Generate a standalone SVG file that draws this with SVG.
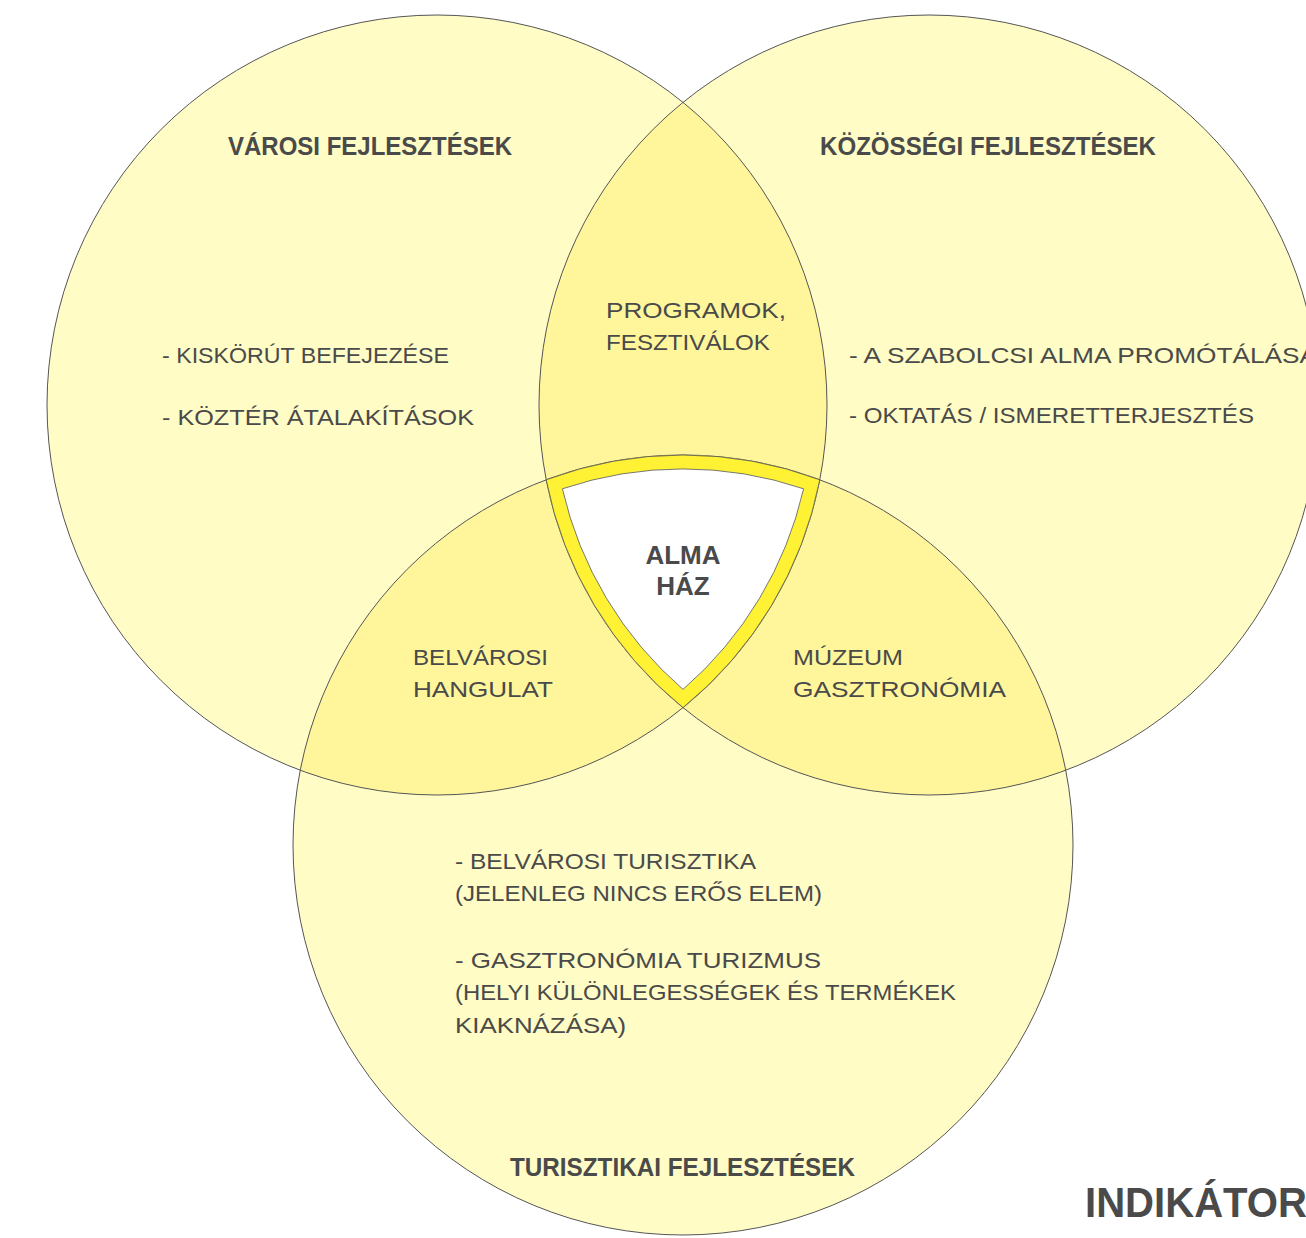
<svg xmlns="http://www.w3.org/2000/svg" width="1306" height="1238" viewBox="0 0 1306 1238">
<style>
.base{fill:#FFFCC5;stroke:none}
.ov{fill:#FFF69C;stroke:none}
.ring{fill:none;stroke:#555;stroke-width:1}
.t{font-family:"Liberation Sans",Arial,sans-serif;font-size:22.5px;fill:#4a4a4a}
.h{font-family:"Liberation Sans",Arial,sans-serif;font-size:26px;font-weight:bold;fill:#4a4a4a}
</style>
<defs>
<clipPath id="cL"><circle cx="437" cy="405" r="390"/></clipPath>
<clipPath id="cR"><circle cx="929" cy="405" r="390"/></clipPath>
</defs>
<rect width="1306" height="1238" fill="#fff"/>
<g id="circles">
<circle class="base" cx="437" cy="405" r="390"/>
<circle class="base" cx="929" cy="405" r="390"/>
<circle class="base" cx="683" cy="845" r="390"/>
<circle class="ov" cx="929" cy="405" r="390" clip-path="url(#cL)"/>
<circle class="ov" cx="683" cy="845" r="390" clip-path="url(#cL)"/>
<circle class="ov" cx="683" cy="845" r="390" clip-path="url(#cR)"/>
<circle class="ring" cx="437" cy="405" r="390"/>
<circle class="ring" cx="929" cy="405" r="390"/>
<circle class="ring" cx="683" cy="845" r="390"/>
</g>
<g id="alma-haz">
<path d="M546.2,479.8 A390,390 0 0,1 819.8,479.8 A390,390 0 0,1 683,707.6 A390,390 0 0,1 546.2,479.8 Z" fill="#FFF235" stroke="#555" stroke-width="0.8"/>
<path d="M562.4,488.8 A376,376 0 0,1 803.6,488.8 A376,376 0 0,1 683,689.4 A376,376 0 0,1 562.4,488.8 Z" fill="#fff" stroke="#555" stroke-width="0.8"/>
<text class="h" x="683" y="564" text-anchor="middle">ALMA</text>
<text class="h" x="683" y="595" text-anchor="middle">HÁZ</text>
</g>
<g id="varosi">
<text class="h" x="228" y="155" textLength="284" lengthAdjust="spacingAndGlyphs">VÁROSI FEJLESZTÉSEK</text>
<text class="t" x="162" y="363" textLength="287" lengthAdjust="spacingAndGlyphs">- KISKÖRÚT BEFEJEZÉSE</text>
<text class="t" x="162" y="425" textLength="312" lengthAdjust="spacingAndGlyphs">- KÖZTÉR ÁTALAKÍTÁSOK</text>
</g>
<g id="kozossegi">
<text class="h" x="820" y="155" textLength="336" lengthAdjust="spacingAndGlyphs">KÖZÖSSÉGI FEJLESZTÉSEK</text>
<text class="t" x="849" y="363" textLength="468" lengthAdjust="spacingAndGlyphs">- A SZABOLCSI ALMA PROMÓTÁLÁSA</text>
<text class="t" x="849" y="423" textLength="405" lengthAdjust="spacingAndGlyphs">- OKTATÁS / ISMERETTERJESZTÉS</text>
</g>
<g id="programok">
<text class="t" x="606" y="318" textLength="180" lengthAdjust="spacingAndGlyphs">PROGRAMOK,</text>
<text class="t" x="606" y="350" textLength="164" lengthAdjust="spacingAndGlyphs">FESZTIVÁLOK</text>
</g>
<g id="belvarosi">
<text class="t" x="413" y="665" textLength="135" lengthAdjust="spacingAndGlyphs">BELVÁROSI</text>
<text class="t" x="413" y="697" textLength="140" lengthAdjust="spacingAndGlyphs">HANGULAT</text>
</g>
<g id="muzeum">
<text class="t" x="793" y="665" textLength="110" lengthAdjust="spacingAndGlyphs">MÚZEUM</text>
<text class="t" x="793" y="697" textLength="213" lengthAdjust="spacingAndGlyphs">GASZTRONÓMIA</text>
</g>
<g id="turisztikai">
<text class="t" x="455" y="869" textLength="301" lengthAdjust="spacingAndGlyphs">- BELVÁROSI TURISZTIKA</text>
<text class="t" x="455" y="901" textLength="367" lengthAdjust="spacingAndGlyphs">(JELENLEG NINCS ERŐS ELEM)</text>
<text class="t" x="455" y="968" textLength="366" lengthAdjust="spacingAndGlyphs">- GASZTRONÓMIA TURIZMUS</text>
<text class="t" x="455" y="1000" textLength="501" lengthAdjust="spacingAndGlyphs">(HELYI KÜLÖNLEGESSÉGEK ÉS TERMÉKEK</text>
<text class="t" x="455" y="1033" textLength="171" lengthAdjust="spacingAndGlyphs">KIAKNÁZÁSA)</text>
<text class="h" x="510" y="1176" textLength="345" lengthAdjust="spacingAndGlyphs">TURISZTIKAI FEJLESZTÉSEK</text>
</g>
<g id="indikator">
<text x="1085" y="1217" font-family="Liberation Sans,Arial,sans-serif" font-size="42" font-weight="bold" fill="#4a4a4a" textLength="222" lengthAdjust="spacingAndGlyphs">INDIKÁTOR</text>
</g>
</svg>
